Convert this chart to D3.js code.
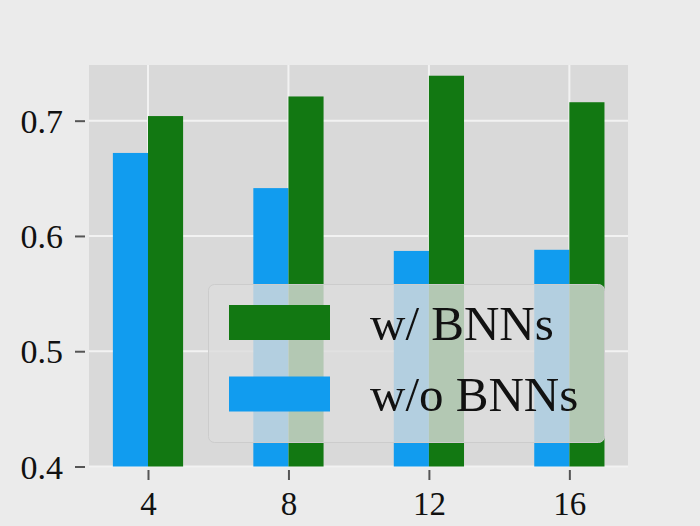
<!DOCTYPE html>
<html>
<head>
<meta charset="utf-8">
<script src="https://cdn.jsdelivr.net/npm/d3@7"></script>
<style>
  html, body { margin: 0; padding: 0; background: #ebebeb; }
  svg { display: block; }
</style>
</head>
<body>
<svg id="chart" width="700" height="526"></svg>
<script>
const categories = [4, 8, 12, 16];
const withBNNs = [0.704, 0.721, 0.739, 0.716];
const withoutBNNs = [0.672, 0.6415, 0.587, 0.588];
const yTicks = [0.4, 0.5, 0.6, 0.7];
const seriesNames = ["w/ BNNs", "w/o BNNs"];

const W = 700, H = 526;
const plot = { left: 89, right: 628, top: 65, bottom: 466.5 };
const colGreen = "#127812", colBlue = "#119cef";
const font = "'Liberation Serif', 'Times New Roman', serif";

const svg = d3.select("#chart");
svg.append("rect").attr("width", W).attr("height", H).attr("fill", "#ebebeb");

const x = d3.scaleLinear().domain([2.32, 17.67]).range([plot.left, plot.right]);
const y = d3.scaleLinear().domain([0.4, 0.7483]).range([plot.bottom, plot.top]);

svg.append("rect")
  .attr("x", plot.left).attr("y", plot.top)
  .attr("width", plot.right - plot.left).attr("height", plot.bottom - plot.top)
  .attr("fill", "#d9d9d9");

// grid
const g = svg.append("g");
g.selectAll("line.h").data(yTicks).join("line")
  .attr("x1", plot.left).attr("x2", plot.right)
  .attr("y1", d => y(d)).attr("y2", d => y(d))
  .attr("stroke", "#f2f2f2").attr("stroke-width", 2);
g.selectAll("line.v").data(categories).join("line")
  .attr("y1", plot.top).attr("y2", plot.bottom)
  .attr("x1", d => x(d)).attr("x2", d => x(d))
  .attr("stroke", "#f2f2f2").attr("stroke-width", 2);

// bars
const barW = x(1) - x(0);
svg.append("g").selectAll("rect").data(categories).join("rect")
  .attr("x", d => x(d) - barW)
  .attr("width", barW)
  .attr("y", (d, i) => y(withoutBNNs[i]))
  .attr("height", (d, i) => y(0.4) - y(withoutBNNs[i]))
  .attr("fill", colBlue);
svg.append("g").selectAll("rect").data(categories).join("rect")
  .attr("x", d => x(d))
  .attr("width", barW)
  .attr("y", (d, i) => y(withBNNs[i]))
  .attr("height", (d, i) => y(0.4) - y(withBNNs[i]))
  .attr("fill", colGreen);

// y axis
const yAxis = d3.axisLeft(y).tickValues(yTicks).tickFormat(d3.format(".1f"))
  .tickSize(10).tickPadding(12);
const ya = svg.append("g").attr("transform", `translate(${plot.left - 4},0)`).call(yAxis);
ya.select(".domain").remove();
ya.selectAll(".tick line").attr("stroke", "#555").attr("stroke-width", 2);
ya.selectAll(".tick text").attr("font-family", font).attr("font-size", 34)
  .attr("fill", "#111").attr("dy", "0.34em");

// x axis
const xAxis = d3.axisBottom(x).tickValues(categories).tickFormat(d3.format("d"))
  .tickSize(10).tickPadding(12);
const xa = svg.append("g").attr("transform", `translate(0,${plot.bottom + 3.5})`).call(xAxis);
xa.select(".domain").remove();
xa.selectAll(".tick line").attr("stroke", "#555").attr("stroke-width", 2);
xa.selectAll(".tick text").attr("font-family", font).attr("font-size", 33)
  .attr("fill", "#111").attr("dy", "0.71em");

// legend
const lg = svg.append("g");
lg.append("rect")
  .attr("x", 208.5).attr("y", 284.5).attr("width", 396).attr("height", 158)
  .attr("rx", 6).attr("ry", 6)
  .attr("fill", "#dcdcdc").attr("fill-opacity", 0.8)
  .attr("stroke", "#cccccc").attr("stroke-width", 1);
const legendItems = [
  { name: seriesNames[0], color: colGreen, y: 305, base: 339.5 },
  { name: seriesNames[1], color: colBlue, y: 376.5, base: 411 }
];
legendItems.forEach(it => {
  lg.append("rect").attr("x", 229).attr("y", it.y).attr("width", 101).attr("height", 35)
    .attr("fill", it.color);
  lg.append("text").attr("x", 370).attr("y", it.base)
    .attr("font-family", font).attr("font-size", 49).attr("fill", "#111")
    .text(it.name);
});
</script>
</body>
</html>
